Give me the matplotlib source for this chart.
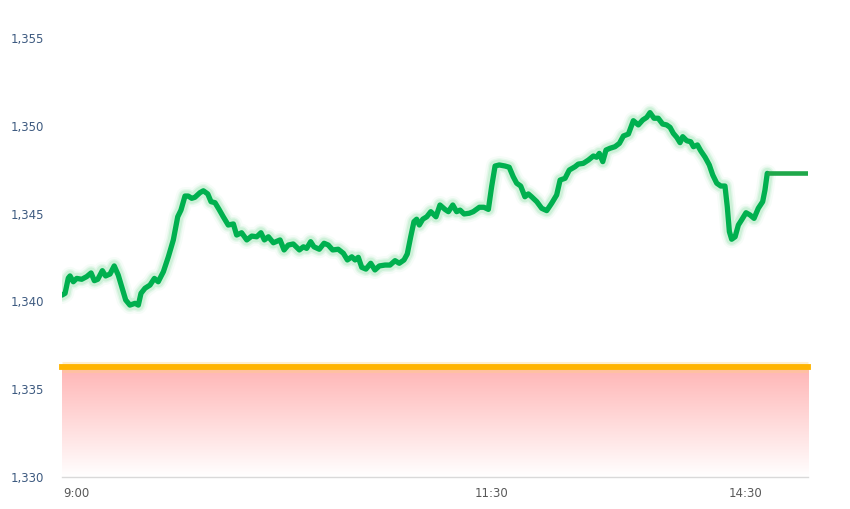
import numpy as np
import matplotlib
matplotlib.use("Agg")
import matplotlib.pyplot as plt
from matplotlib.colors import LinearSegmentedColormap

# time positions (minutes on a 0..390 scale) and prices
t = [0, 1.6, 3.3, 4.2, 5.9, 7.7, 10.3, 12.9, 15.2, 16.9, 18.7, 21.1, 22.8, 25.1, 27.3, 29.4,
     31.2, 33.3, 35.5, 38.2, 39.9, 41.3, 43.4, 46.0, 48.3, 50.3, 53.0, 55.6, 58.2, 60.5, 62.2,
     64.3, 66.0, 67.8, 69.5, 72.1, 73.9, 76.2, 77.9, 80.0, 82.1, 84.3, 86.9, 89.6, 91.3, 93.9,
     96.6, 99.2, 101.8, 104.0, 105.8, 107.9, 110.5, 114.0, 116.1, 118.3, 120.9, 124.1, 126.2,
     127.9, 130.0, 131.7, 134.5, 137.0, 139.2, 141.5, 144.4, 147.1, 149.2, 151.5, 153.2, 154.9,
     156.7, 158.9, 161.4, 163.6, 165.9, 168.9, 171.5, 174.1, 176.3, 178.8, 180.5, 182.3, 184.0,
     185.4, 186.8, 188.6, 190.7, 192.8, 195.5, 197.6, 200.2, 202.0, 204.3, 206.3, 208.1, 210.2,
     212.9, 215.0, 218.2, 220.6, 222.9, 224.6, 226.4, 228.6, 231.6, 233.8, 235.9, 237.7, 239.8,
     242.0, 243.8, 245.5, 248.2, 250.8, 253.4, 256.0, 258.6, 260.4, 263.0, 265.2, 268.2, 269.9,
     272.5, 275.2, 277.8, 279.5, 280.9, 282.7, 284.4, 286.5, 289.1, 291.4, 293.5, 296.1, 298.7,
     301.3, 303.6, 305.7, 307.4, 309.5, 311.7, 314.0, 316.1, 317.9, 319.6, 321.4, 323.1, 324.5,
     326.6, 328.7, 330.1, 332.2, 333.9, 336.2, 338.4, 340.2, 342.3, 344.4, 346.6, 347.8, 348.9,
     350.1, 351.9, 353.6, 355.3, 357.6, 359.7, 361.8, 364.0, 366.3, 367.5, 368.7]
price = [1340.36, 1340.46, 1341.33, 1341.45, 1341.12, 1341.31, 1341.26, 1341.41, 1341.62, 1341.18,
         1341.26, 1341.75, 1341.45, 1341.56, 1342.02, 1341.50, 1340.84, 1340.08, 1339.79, 1339.89,
         1339.79, 1340.46, 1340.75, 1340.93, 1341.31, 1341.12, 1341.69, 1342.54, 1343.50, 1344.82,
         1345.20, 1346.00, 1346.00, 1345.87, 1345.93, 1346.19, 1346.30, 1346.12, 1345.68, 1345.62,
         1345.24, 1344.82, 1344.35, 1344.41, 1343.78, 1343.91, 1343.50, 1343.72, 1343.68, 1343.91,
         1343.50, 1343.68, 1343.34, 1343.50, 1342.93, 1343.21, 1343.27, 1342.93, 1343.11, 1343.02,
         1343.40, 1343.11, 1342.97, 1343.31, 1343.21, 1342.93, 1342.97, 1342.74, 1342.36, 1342.54,
         1342.36, 1342.51, 1341.94, 1341.84, 1342.17, 1341.79, 1342.02, 1342.07, 1342.07, 1342.32,
         1342.17, 1342.36, 1342.70, 1343.68, 1344.54, 1344.68, 1344.35, 1344.68, 1344.82, 1345.11,
         1344.82, 1345.49, 1345.24, 1345.11, 1345.49, 1345.11, 1345.20, 1344.98, 1345.02, 1345.11,
         1345.36, 1345.36, 1345.24, 1346.53, 1347.71, 1347.77, 1347.71, 1347.64, 1347.10, 1346.73,
         1346.57, 1345.96, 1346.12, 1345.96, 1345.68, 1345.30, 1345.17, 1345.59, 1346.06, 1346.91,
         1347.01, 1347.48, 1347.67, 1347.82, 1347.86, 1348.05, 1348.28, 1348.21, 1348.43, 1347.96,
         1348.62, 1348.72, 1348.81, 1349.00, 1349.42, 1349.53, 1350.29, 1350.05, 1350.33, 1350.48,
         1350.75, 1350.43, 1350.43, 1350.10, 1350.05, 1349.91, 1349.57, 1349.34, 1349.04, 1349.38,
         1349.15, 1349.09, 1348.81, 1348.91, 1348.58, 1348.21, 1347.77, 1347.20, 1346.73, 1346.57,
         1346.57, 1345.39, 1343.97, 1343.54, 1343.68, 1344.35, 1344.64, 1345.05, 1344.92, 1344.73,
         1345.30, 1345.68, 1346.34, 1347.29]

# flat tail (last price carried to the close)
tail_t = [368.7, 390]
tail_price = [1347.29, 1347.29]

ref_level = 1336.26
y_min, y_max = 1330, 1355
y_ticks = [1330, 1335, 1340, 1345, 1350, 1355]
x_tick_pos = [7.3, 224.8, 357.1]
x_tick_labels = ["9:00", "11:30", "14:30"]

fig = plt.figure(figsize=(8.5, 5.09), dpi=100)
ax = fig.add_axes([62 / 850, 1 - 477 / 509, (808 - 62) / 850, (477 - 38) / 509])
ax.set_xlim(0, 390)
ax.set_ylim(y_min, y_max)

# red gradient area below the reference line
cmap = LinearSegmentedColormap.from_list("rg", [(1, 1, 1), (1, 0.71, 0.71)])
grad = np.linspace(0, 1, 256).reshape(-1, 1)
ax.imshow(grad, extent=[0, 390, y_min, ref_level], origin="lower", aspect="auto",
          cmap=cmap, zorder=1, interpolation="bicubic")

# orange reference line with soft glow
ax.plot([0, 390], [ref_level, ref_level], color="#ffd27a", lw=8, alpha=0.35,
        solid_capstyle="butt", zorder=2, clip_on=False)
ax.plot([0, 390], [ref_level, ref_level], color="#ffb400", lw=4.2,
        solid_capstyle="projecting", zorder=3, clip_on=False)

# glow for green line
for lw, a in [(13, 0.08), (10, 0.16), (8, 0.28)]:
    ax.plot(t, price, color="#8fe2a8", lw=lw, alpha=a, solid_joinstyle="round",
            solid_capstyle="round", zorder=4)
ax.plot(t, price, color="#00b04f", lw=3.8, solid_joinstyle="round",
        solid_capstyle="round", zorder=5)
ax.plot(tail_t, tail_price, color="#1fa84a", lw=3.3, solid_capstyle="butt", zorder=5)

# axes styling
for s in ["top", "right", "left"]:
    ax.spines[s].set_visible(False)
ax.spines["bottom"].set_color("#d9d9d9")
ax.spines["bottom"].set_linewidth(1)
ax.spines["bottom"].set_zorder(6)

ax.set_yticks(y_ticks)
ax.set_yticklabels([f"{v:,}" for v in y_ticks])
ax.tick_params(axis="y", length=0, pad=37, labelsize=8.5, labelcolor="#3d5a80")
for lab in ax.get_yticklabels():
    lab.set_horizontalalignment("left")
ax.set_xticks(x_tick_pos)
ax.set_xticklabels(x_tick_labels)
ax.tick_params(axis="x", length=0, pad=7, labelsize=8.5, labelcolor="#595959")

fig.savefig("out.png", dpi=100, facecolor="white")
